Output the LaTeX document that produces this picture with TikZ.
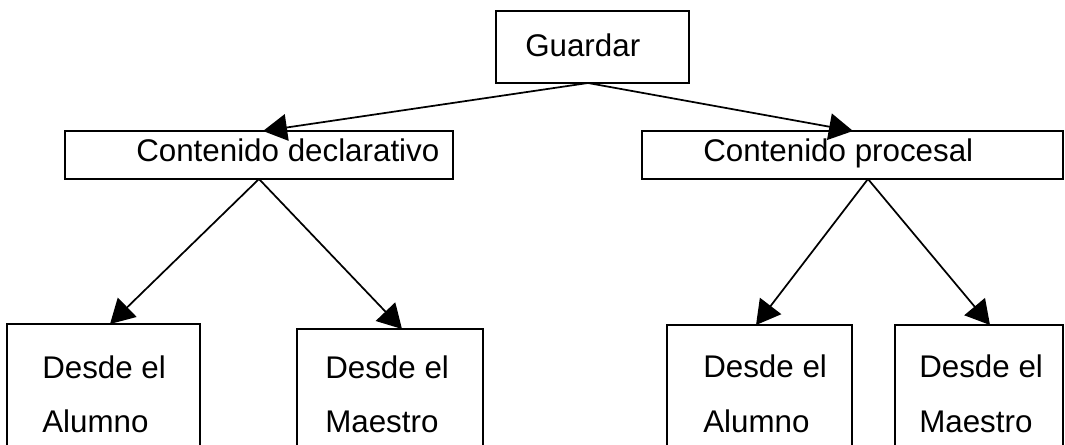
\documentclass[tikz,border=0pt]{standalone}
\usepackage{fontspec}
\setmainfont{Liberation Sans}
\usetikzlibrary{arrows.meta}
\begin{document}
\begin{tikzpicture}[x=0.75pt,y=-0.75pt,
  box/.style={draw=black,line width=1.4pt,inner sep=0pt,outer sep=0pt,fill=none},
  lbl/.style={anchor=base west,inner sep=0pt,font=\fontsize{23.5pt}{28pt}\selectfont},
  conn/.style={line width=1.3pt,-{Triangle[length=18pt,width=20pt]}}]
\useasboundingbox (0,0) rectangle (1065,445);
\clip (0,0) rectangle (1065,445);
\fill[white] (0,0) rectangle (1065,445);
% boxes
\node[box,minimum width=144.75pt,minimum height=54pt] (g) at (592.5,47) {};
\node[box,minimum width=291pt,minimum height=36pt] (d) at (259,155) {};
\node[box,minimum width=315.75pt,minimum height=36pt] (p) at (852.5,155) {};
\node[box,minimum width=144.75pt,minimum height=102pt] (a1) at (103.5,392) {};
\node[box,minimum width=139.5pt,minimum height=98.25pt] (m1) at (390,394.5) {};
\node[box,minimum width=138.75pt,minimum height=101.25pt] (a2) at (759.5,392.5) {};
\node[box,minimum width=126pt,minimum height=101.25pt] (m2) at (979,392.5) {};
% texts
\node[lbl] (tg) at (525,57) {Guardar};
\node[lbl] (td) at (136,162) {Contenido declarativo};
\node[lbl] (tp) at (703,162) {Contenido procesal};
\node[lbl] (ta1a) at (42,379) {Desde el};
\node[lbl] (ta1b) at (42,433) {Alumno};
\node[lbl] (tm1a) at (325,379) {Desde el};
\node[lbl] (tm1b) at (325,433) {Maestro};
\node[lbl] (ta2a) at (703,378) {Desde el};
\node[lbl] (ta2b) at (703,433) {Alumno};
\node[lbl] (tm2a) at (919,378) {Desde el};
\node[lbl] (tm2b) at (919,433) {Maestro};
% connectors
\draw[conn] ([xshift=-3.4pt]g.south) -- ([xshift=3pt]d.north);
\draw[conn] ([xshift=-3.4pt]g.south) -- ([xshift=0.4pt]p.north);
\draw[conn] (d.south) -- ([xshift=4.9pt]a1.north);
\draw[conn] (d.south) -- ([xshift=9pt]m1.north);
\draw[conn] ([xshift=11.6pt]p.south) -- ([xshift=-2.6pt]a2.north);
\draw[conn] ([xshift=11.6pt]p.south) -- ([xshift=8.25pt]m2.north);
\end{tikzpicture}
\end{document}
